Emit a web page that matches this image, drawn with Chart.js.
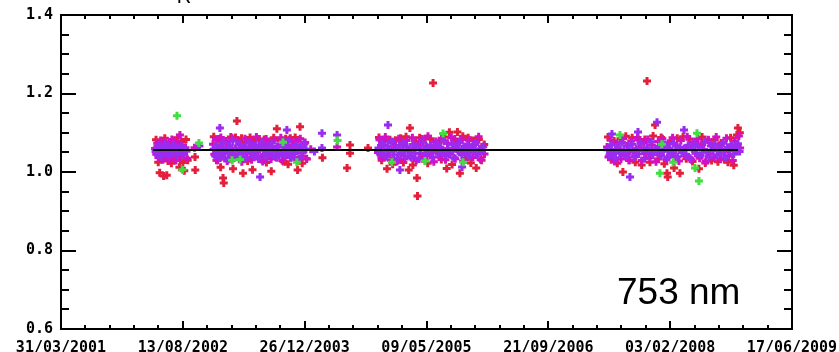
<!DOCTYPE html>
<html>
<head>
<meta charset="utf-8">
<script src="https://cdn.jsdelivr.net/npm/chart.js@4.4.1/dist/chart.umd.min.js"></script>
<style>
  html, body { margin: 0; padding: 0; background: #fff; }
  #wrap { width: 839px; height: 352px; }
</style>
</head>
<body>
<div id="wrap"><canvas id="c" width="839" height="352"></canvas></div>
<script>
// x values are days counted from 31/03/2001; one labelled tick every 500 days
const dateLabels = ['31/03/2001', '13/08/2002', '26/12/2003', '09/05/2005', '21/09/2006', '03/02/2008', '17/06/2009'];
const yLabels = ['0.6', '0.8', '1.0', '1.2', '1.4'];

// mean ratio and the day range it is drawn over
const meanLevel = 1.056;
const meanSpan = [378, 2778];

const purple = [
  [388,1.052],[393,1.061],[397,1.044],[402,1.068],[406,1.055],[411,1.039],[415,1.063],[419,1.050],[424,1.071],[428,1.046],
  [433,1.058],[437,1.066],[442,1.041],[447,1.054],[452,1.062],[458,1.048],[463,1.069],[469,1.057],[475,1.043],[481,1.060],
  [488,1.051],[495,1.065],[502,1.047],[509,1.058],[515,1.053],[568,1.066],
  [626,1.058],[633,1.041],[640,1.069],[646,1.050],[652,1.036],[652,1.112],[659,1.063],[665,1.075],[672,1.047],[679,1.055],
  [685,1.032],[692,1.066],[698,1.052],[705,1.079],[712,1.044],[718,1.060],[725,1.038],[731,1.071],[738,1.053],[745,1.046],
  [751,1.064],[758,1.035],[765,1.057],[771,1.073],[778,1.049],[785,1.061],[791,1.040],[798,1.068],[805,1.054],[811,1.033],
  [817,0.987],[818,1.062],[825,1.076],[831,1.045],[838,1.058],[845,1.039],[851,1.067],[858,1.051],[865,1.074],[871,1.043],
  [878,1.059],[885,1.036],[891,1.065],[898,1.048],[905,1.070],[911,1.055],[918,1.042],[925,1.063],[927,1.107],[931,1.078],
  [938,1.050],[945,1.037],[951,1.061],[958,1.047],[965,1.069],[971,1.056],[978,1.034],[985,1.064],[991,1.049],[998,1.072],
  [1005,1.058],
  [1040,1.052],[1071,1.099],[1071,1.061],[1133,1.094],
  [1303,1.061],[1310,1.047],[1318,1.073],[1326,1.055],[1334,1.039],[1341,1.066],[1342,1.120],[1349,1.052],[1357,1.078],[1365,1.044],
  [1373,1.059],[1381,1.035],[1389,1.068],[1391,1.005],[1397,1.050],[1405,1.074],[1413,1.041],[1421,1.063],[1429,1.056],[1437,1.037],
  [1445,1.070],[1453,1.048],[1461,1.065],[1469,1.033],[1477,1.058],[1485,1.076],[1493,1.045],[1501,1.062],[1509,1.051],[1517,1.069],
  [1525,1.038],[1533,1.057],[1541,1.072],[1549,1.046],[1557,1.064],[1565,1.053],[1573,1.079],[1581,1.042],[1589,1.060],[1597,1.049],
  [1605,1.071],[1613,1.036],[1621,1.066],[1629,1.054],[1637,1.075],[1645,1.043],[1646,1.013],[1653,1.061],[1661,1.050],[1669,1.068],
  [1677,1.040],[1685,1.063],[1693,1.057],[1701,1.074],[1709,1.045],[1717,1.059],[1725,1.052],[1733,1.065],
  [2243,1.057],[2251,1.043],[2259,1.069],[2261,1.097],[2268,1.051],[2276,1.036],[2285,1.064],[2293,1.048],[2302,1.075],[2310,1.055],
  [2319,1.040],[2327,1.066],[2335,0.987],[2336,1.052],[2344,1.071],[2353,1.038],[2361,1.060],[2368,1.102],[2370,1.046],[2378,1.073],
  [2387,1.054],[2395,1.034],[2404,1.062],[2412,1.049],[2421,1.077],[2429,1.044],[2438,1.058],[2446,1.127],[2448,1.055],[2455,1.065],
  [2463,1.041],[2472,1.053],[2480,1.070],[2489,1.037],[2497,1.061],[2506,1.047],[2514,1.074],[2523,1.056],[2531,1.039],[2540,1.063],
  [2548,1.050],[2557,1.107],[2558,1.060],[2565,1.045],[2574,1.068],[2582,1.035],[2591,1.059],[2599,1.072],[2608,1.048],[2616,1.064],
  [2625,1.042],[2633,1.057],[2642,1.076],[2650,1.051],[2659,1.038],[2667,1.066],[2676,1.054],[2684,1.070],[2693,1.043],[2701,1.061],
  [2710,1.049],[2718,1.074],[2727,1.036],[2735,1.063],[2744,1.055],[2752,1.068],[2761,1.046],[2769,1.059],[2778,1.072],[2785,1.052]
];

const magenta = [
  [386,1.060],[391,1.045],[395,1.073],[400,1.037],[404,1.058],[409,1.080],[413,1.049],[418,1.031],[422,1.064],[427,1.077],
  [431,1.042],[436,1.055],[440,1.070],[445,1.034],[450,1.061],[455,1.083],[460,1.044],[466,1.066],[472,1.029],[478,1.074],
  [484,1.052],[488,1.094],[490,1.038],[497,1.069],[504,1.045],[511,1.062],[517,1.035],[548,1.062],
  [624,1.071],[629,1.045],[636,1.083],[643,1.030],[649,1.062],[656,1.088],[662,1.039],[669,1.054],[676,1.077],[682,1.028],
  [689,1.066],[695,1.049],[702,1.086],[709,1.035],[715,1.059],[722,1.080],[728,1.043],[735,1.070],[742,1.026],[748,1.063],
  [755,1.085],[762,1.037],[768,1.052],[775,1.079],[782,1.031],[788,1.067],[795,1.046],[802,1.089],[808,1.040],[815,1.058],
  [822,1.074],[828,1.027],[835,1.061],[842,1.084],[848,1.044],[855,1.069],[862,1.033],[868,1.056],[875,1.081],[882,1.038],
  [888,1.065],[895,1.050],[902,1.087],[908,1.029],[915,1.072],[922,1.042],[928,1.060],[935,1.082],[942,1.036],[948,1.068],
  [955,1.047],[962,1.078],[968,1.032],[975,1.063],[982,1.085],[988,1.041],[995,1.057],[1002,1.075],[1008,1.034],
  [1025,1.058],[1133,1.064],
  [1301,1.050],[1307,1.082],[1315,1.036],[1323,1.067],[1331,1.089],[1338,1.043],[1346,1.058],[1354,1.030],[1362,1.075],[1370,1.062],
  [1378,1.027],[1386,1.085],[1394,1.047],[1402,1.069],[1410,1.033],[1418,1.080],[1426,1.054],[1434,1.040],[1442,1.087],[1450,1.061],
  [1458,1.029],[1466,1.072],[1474,1.048],[1482,1.084],[1490,1.035],[1498,1.066],[1506,1.091],[1514,1.042],[1522,1.057],[1530,1.026],
  [1538,1.078],[1546,1.063],[1554,1.038],[1562,1.086],[1570,1.051],[1578,1.031],[1586,1.073],[1594,1.045],[1602,1.088],[1610,1.059],
  [1618,1.034],[1626,1.076],[1634,1.052],[1642,1.083],[1650,1.028],[1658,1.065],[1666,1.044],[1674,1.081],[1682,1.056],[1690,1.037],
  [1698,1.070],[1706,1.049],[1714,1.090],[1722,1.032],[1730,1.064],[1738,1.046],
  [2241,1.064],[2247,1.038],[2256,1.081],[2264,1.049],[2272,1.027],[2281,1.072],[2289,1.058],[2298,1.033],[2306,1.086],[2315,1.045],
  [2323,1.067],[2332,1.030],[2340,1.079],[2349,1.054],[2357,1.041],[2366,1.088],[2374,1.062],[2383,1.029],[2391,1.075],[2400,1.047],
  [2408,1.083],[2417,1.036],[2425,1.069],[2434,1.052],[2442,1.026],[2451,1.078],[2459,1.044],[2468,1.085],[2476,1.060],[2485,1.032],
  [2493,1.073],[2502,1.050],[2510,1.087],[2519,1.039],[2527,1.066],[2536,1.028],[2544,1.080],[2553,1.055],[2561,1.042],[2570,1.090],
  [2578,1.063],[2587,1.031],[2595,1.076],[2604,1.048],[2612,1.084],[2621,1.035],[2629,1.070],[2638,1.057],[2646,1.027],[2655,1.082],
  [2663,1.046],[2672,1.068],[2680,1.037],[2689,1.089],[2697,1.059],[2706,1.033],[2714,1.074],[2723,1.051],[2731,1.086],[2740,1.040],
  [2748,1.065],[2757,1.029],[2765,1.079],[2774,1.053],[2782,1.092],[2787,1.061]
];

const red = [
  [390,1.082],[399,1.025],[405,0.998],[410,1.078],[416,1.033],[421,0.990],[426,1.086],[434,0.992],[439,1.028],[446,1.076],
  [453,1.022],[461,1.080],[470,1.031],[479,1.087],[486,1.012],[493,1.078],[500,1.024],[506,1.003],[513,1.083],[520,1.030],
  [550,1.038],[551,1.005],
  [627,1.090],[638,1.030],[647,1.084],[655,1.012],[665,0.985],[668,0.972],[678,1.079],[688,1.034],[697,1.089],[706,1.008],
  [716,1.088],[722,1.130],[733,1.045],[741,1.086],[747,0.997],[756,1.076],[766,1.028],[776,1.088],[786,1.006],[795,1.081],
  [804,1.060],[814,1.084],[824,1.031],[834,1.083],[843,1.024],[853,1.074],[863,1.002],[873,1.087],[886,1.110],[894,1.050],
  [903,1.080],[913,1.027],[922,1.085],[932,1.020],[941,1.086],[951,1.066],[961,1.088],[971,1.005],[981,1.115],[990,1.022],
  [999,1.072],[1008,1.033],
  [1073,1.036],[1174,1.010],[1186,1.069],[1186,1.048],[1260,1.061],
  [1305,1.088],[1316,1.030],[1327,1.079],[1338,1.008],[1350,1.082],[1361,1.020],[1372,1.081],[1383,1.029],[1394,1.086],[1405,1.024],
  [1416,1.090],[1427,1.005],[1432,1.112],[1444,1.018],[1455,1.077],[1461,0.985],[1463,0.939],[1472,1.087],[1483,1.034],[1494,1.085],
  [1505,1.022],[1516,1.085],[1527,1.227],[1535,1.060],[1540,1.055],[1550,1.074],[1561,1.032],[1572,1.089],[1583,1.009],[1594,1.101],
  [1605,1.019],[1616,1.084],[1627,1.102],[1637,0.997],[1649,1.091],[1660,1.031],[1671,1.087],[1682,1.023],[1693,1.080],[1704,1.010],
  [1715,1.083],[1726,1.030],[1737,1.070],
  [2245,1.089],[2258,1.031],[2270,1.079],[2283,1.022],[2296,1.085],[2306,1.000],[2318,1.091],[2331,1.030],[2344,1.087],[2357,1.025],
  [2370,1.082],[2383,1.018],[2396,1.083],[2405,1.232],[2417,1.025],[2430,1.092],[2438,1.120],[2450,1.033],[2463,1.088],[2476,1.021],
  [2487,0.997],[2490,0.987],[2503,1.078],[2516,1.010],[2529,1.086],[2540,0.997],[2553,1.090],[2566,1.034],[2579,1.084],[2592,1.027],
  [2605,1.076],[2618,1.008],[2631,1.089],[2644,1.023],[2657,1.081],[2670,1.029],[2683,1.082],[2696,1.026],[2709,1.074],[2722,1.032],
  [2737,1.025],[2748,1.087],[2761,1.017],[2774,1.094],[2778,1.112],[2786,1.100]
];

const green = [
  [476,1.143],[498,1.006],[566,1.074],[702,1.030],[735,1.032],[911,1.076],[968,1.025],[1135,1.080],
  [1358,1.025],[1494,1.028],[1568,1.098],[1650,1.025],
  [2294,1.094],[2458,0.997],[2466,1.071],[2512,1.025],[2602,1.010],[2610,1.099],[2618,0.977]
];

const toXY = pts => pts.map(([x, y]) => ({ x, y }));

function crossSet(label, pts, color, order) {
  return {
    type: 'scatter',
    label,
    data: toXY(pts),
    order,
    pointStyle: 'cross',
    pointRadius: 4,
    pointHoverRadius: 4,
    pointBorderWidth: 3,
    pointBorderColor: color,
    pointBackgroundColor: color,
    borderColor: color,
    showLine: false
  };
}

// inward tick marks on all four sides plus the top/right frame edges
const frameTicks = {
  id: 'frameTicks',
  afterDatasetsDraw(chart) {
    const { ctx, chartArea: a, scales: { x, y } } = chart;
    ctx.save();
    ctx.strokeStyle = '#000';
    ctx.lineWidth = 2;
    ctx.beginPath();
    x.ticks.forEach(t => {
      const px = Math.round(x.getPixelForValue(t.value));
      const len = Math.round(t.value) % 500 === 0 ? 8 : 4;
      ctx.moveTo(px, a.bottom); ctx.lineTo(px, a.bottom - len);
      ctx.moveTo(px, a.top); ctx.lineTo(px, a.top + len);
    });
    y.ticks.forEach(t => {
      const py = Math.round(y.getPixelForValue(t.value));
      const k = (t.value - 0.6) / 0.2;
      const len = Math.abs(k - Math.round(k)) < 1e-6 ? 15 : 8;
      ctx.moveTo(a.left, py); ctx.lineTo(a.left + len, py);
      ctx.moveTo(a.right, py); ctx.lineTo(a.right - len, py);
    });
    ctx.moveTo(a.left, a.top); ctx.lineTo(a.right, a.top); ctx.lineTo(a.right, a.bottom);
    ctx.stroke();
    ctx.restore();
  },
  afterDraw(chart) {
    const ctx = chart.ctx;
    ctx.save();
    ctx.fillStyle = '#000';
    ctx.textBaseline = 'alphabetic';
    ctx.font = '37px "Liberation Sans", Arial, sans-serif';
    ctx.textAlign = 'left';
    ctx.fillText('753 nm', 617, 304);
    ctx.font = '20px "Liberation Sans", Arial, sans-serif';
    ctx.textAlign = 'center';
    ctx.fillText('R', 184, 3);
    ctx.restore();
  }
};

const tickFont = { family: '"DejaVu Sans Mono", monospace', size: 15, weight: 'bold' };

new Chart(document.getElementById('c'), {
  data: {
    datasets: [
      {
        type: 'line',
        label: 'mean',
        data: [{ x: meanSpan[0], y: meanLevel }, { x: meanSpan[1], y: meanLevel }],
        order: 0,
        borderColor: '#000',
        borderWidth: 2,
        pointRadius: 0,
        fill: false
      },
      crossSet('green', green, '#40de40', 1),
      crossSet('purple', purple, '#9a2cf0', 2),
      crossSet('magenta', magenta, '#d210c4', 3),
      crossSet('red', red, '#e2203c', 4)
    ]
  },
  options: {
    responsive: false,
    animation: false,
    devicePixelRatio: 1,
    events: [],
    layout: { padding: { top: 15, right: 47, left: 0, bottom: 0 } },
    plugins: { legend: { display: false }, tooltip: { enabled: false } },
    scales: {
      x: {
        type: 'linear',
        position: 'bottom',
        min: 0,
        max: 3000,
        afterFit: s => { s.height = 23; s.paddingLeft = 0; s.paddingRight = 0; },
        grid: { display: false, drawTicks: false },
        border: { display: true, color: '#000', width: 2 },
        ticks: {
          stepSize: 100,
          autoSkip: false,
          maxRotation: 0,
          padding: 10,
          color: '#000',
          font: tickFont,
          callback: v => (Math.round(v) % 500 === 0 ? dateLabels[Math.round(v) / 500] : '')
        }
      },
      y: {
        type: 'linear',
        position: 'left',
        min: 0.6,
        max: 1.4,
        afterFit: s => { s.width = 61; s.paddingTop = 0; s.paddingBottom = 0; },
        grid: { display: false, drawTicks: false },
        border: { display: true, color: '#000', width: 2 },
        ticks: {
          stepSize: 0.05,
          autoSkip: false,
          padding: 8,
          color: '#000',
          font: tickFont,
          callback: v => {
            const k = (v - 0.6) / 0.2;
            const r = Math.round(k);
            return Math.abs(k - r) < 1e-6 ? yLabels[r] : '';
          }
        }
      }
    }
  },
  plugins: [frameTicks]
});
</script>
</body>
</html>
